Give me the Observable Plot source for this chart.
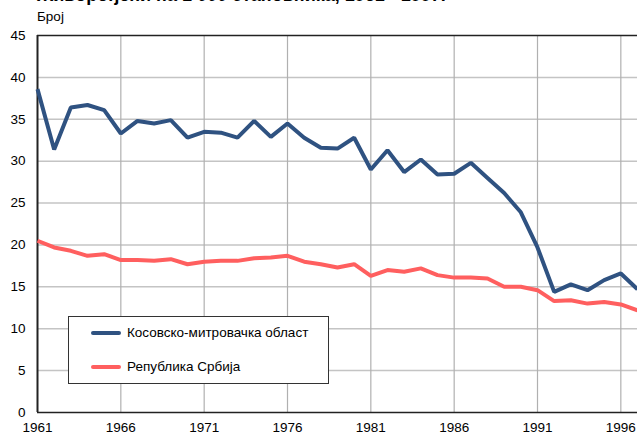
<!DOCTYPE html>
<html>
<head>
<meta charset="utf-8">
<script src="https://cdn.jsdelivr.net/npm/d3@7"></script>
<script src="https://cdn.jsdelivr.net/npm/@observablehq/plot@0.6"></script>
<style>
  html, body { margin: 0; padding: 0; background: #fff; overflow: hidden; }
  body { width: 637px; height: 434px; position: relative; font-family: "Liberation Sans", Arial, sans-serif; color: #000; }
  .title { font: bold 18px "Liberation Sans", Arial, sans-serif; line-height: 20px; margin-top: -15px; margin-left: 37px; white-space: nowrap; }
  .sub { font: 13.5px "Liberation Sans", Arial, sans-serif; line-height: 16px; margin-top: 4px; margin-left: 37px; }
  #chart svg { display: block; }
  .legend { position: absolute; left: 68px; top: 316px; width: 261px; height: 68px; background: #fff; border: 1px solid #333; box-sizing: border-box; font: 13.5px "Liberation Sans", Arial, sans-serif; }
  .legend .row { position: absolute; left: 22px; display: flex; align-items: center; white-space: nowrap; }
  .legend .sw { width: 30px; height: 4px; border-radius: 2px; margin-right: 6px; }
</style>
</head>
<body>
<div class="title">Живорођени на 1 000 становника, 1961 - 1997.</div>
<div class="sub">Број</div>
<div id="chart"></div>
<div class="legend" id="legend"></div>
<script>
const years = [1961,1962,1963,1964,1965,1966,1967,1968,1969,1970,
               1971,1972,1973,1974,1975,1976,1977,1978,1979,1980,
               1981,1982,1983,1984,1985,1986,1987,1988,1989,1990,
               1991,1992,1993,1994,1995,1996,1997];
const kosovo = [38.6,31.4,36.4,36.7,36.1,33.3,34.8,34.5,34.9,32.8,
                33.5,33.4,32.8,34.8,32.9,34.5,32.8,31.6,31.5,32.8,
                29.0,31.3,28.7,30.2,28.4,28.5,29.8,28.0,26.2,23.9,
                19.7,14.4,15.3,14.6,15.8,16.6,14.7];
const serbia = [20.5,19.7,19.3,18.7,18.9,18.2,18.2,18.1,18.3,17.7,
                18.0,18.1,18.1,18.4,18.5,18.7,18.0,17.7,17.3,17.7,
                16.3,17.0,16.8,17.2,16.4,16.1,16.1,16.0,15.0,15.0,
                14.6,13.3,13.4,13.0,13.2,12.9,12.2];
const seriesNames = ["Косовско-митровачка област", "Република Србија"];
const seriesColors = ["#2f5281", "#ff5f5f"];
const xTicks = [1961,1966,1971,1976,1981,1986,1991,1996];
const yTicks = [0,5,10,15,20,25,30,35,40,45];

const rows = [];
years.forEach((y, i) => {
  rows.push({year: y, value: kosovo[i], series: seriesNames[0]});
  rows.push({year: y, value: serbia[i], series: seriesNames[1]});
});

const chart = Plot.plot({
  width: 637,
  height: 409,
  marginTop: 10,
  marginBottom: 22,
  marginLeft: 37,
  marginRight: 0,
  style: {fontFamily: "'Liberation Sans', Arial, sans-serif", fontSize: "13px", color: "#000", background: "#fff"},
  x: {domain: [1961, 1997], ticks: xTicks, tickFormat: d => String(d), tickSize: 0, tickPadding: 10, label: null},
  y: {domain: [0, 45], ticks: yTicks, tickSize: 0, tickPadding: 12, label: null},
  color: {domain: seriesNames, range: seriesColors},
  marks: [
    Plot.gridY(yTicks.filter(t => t > 0 && t < 45), {stroke: "#c4c4c4", strokeOpacity: 1, strokeWidth: 1.5}),
    Plot.gridX(xTicks.filter(t => t > 1961), {stroke: "#b0b0b0", strokeOpacity: 1, strokeWidth: 1.2}),
    Plot.ruleY([0, 45], {stroke: "#222", strokeWidth: 1.6}),
    Plot.ruleX([1961], {stroke: "#222", strokeWidth: 2}),
    Plot.axisX({ticks: xTicks, tickFormat: d => String(d), tickSize: 0, tickPadding: 10, fill: "#000", fontSize: 13.5}),
    Plot.axisY({ticks: yTicks, tickSize: 0, tickPadding: 12, fill: "#000", fontSize: 13.5}),
    Plot.line(rows, {x: "year", y: "value", z: "series", stroke: "series", strokeWidth: 4, strokeLinejoin: "miter", strokeLinecap: "butt"})
  ]
});
document.getElementById("chart").appendChild(chart);

const legend = document.getElementById("legend");
const rowTops = [8, 42];
seriesNames.forEach((name, i) => {
  const r = document.createElement("div");
  r.className = "row";
  r.style.top = rowTops[i] + "px";
  const sw = document.createElement("span");
  sw.className = "sw";
  sw.style.background = seriesColors[i];
  const t = document.createElement("span");
  t.textContent = name;
  r.appendChild(sw);
  r.appendChild(t);
  legend.appendChild(r);
});
</script>
</body>
</html>
